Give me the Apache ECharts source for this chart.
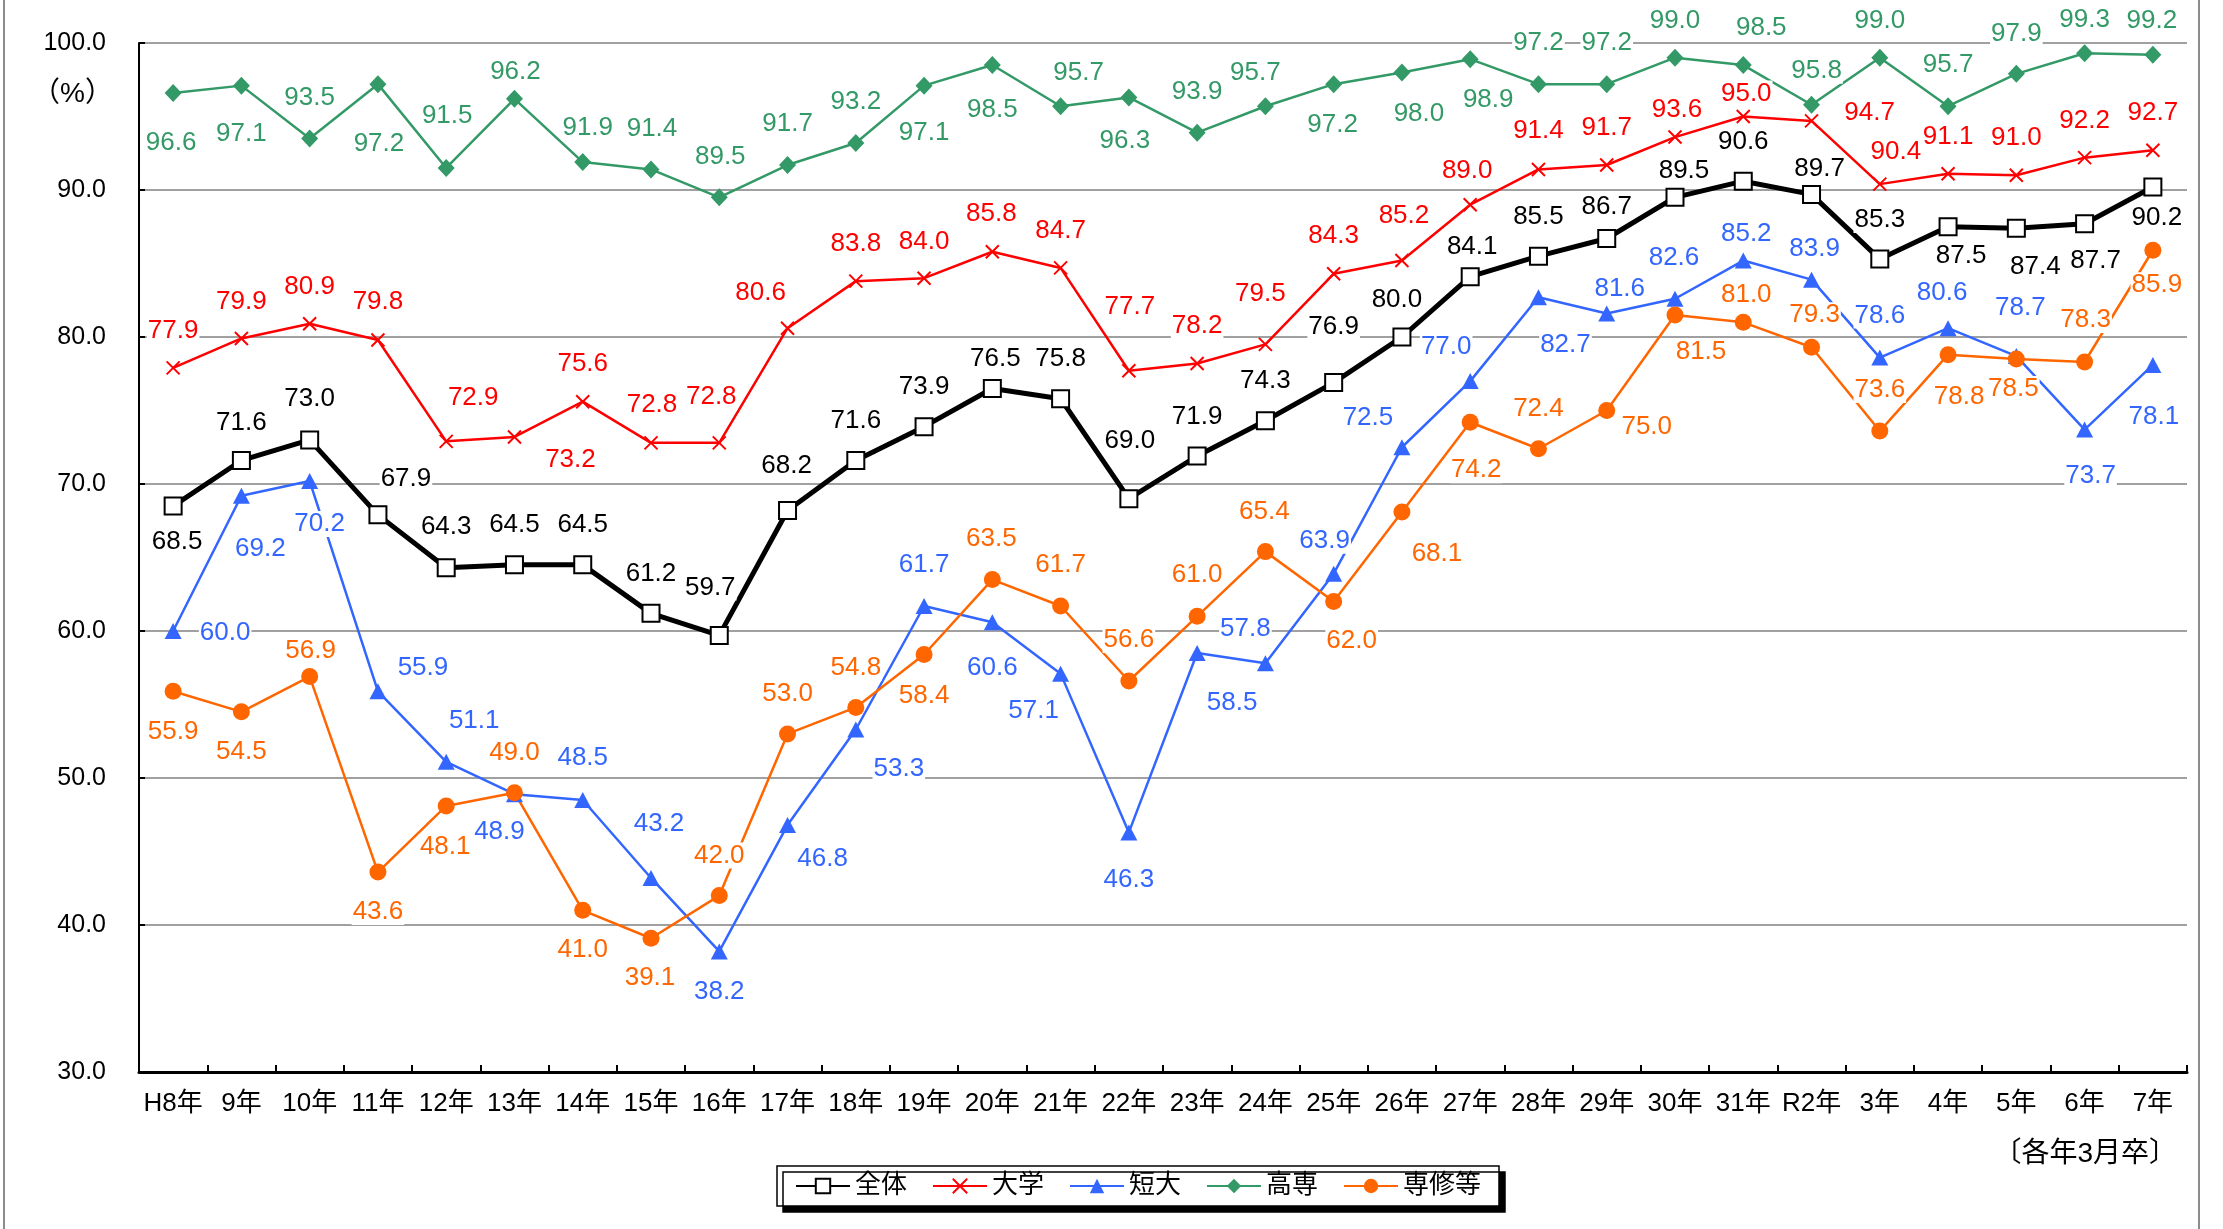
<!DOCTYPE html>
<html><head><meta charset="utf-8">
<script src="https://cdn.jsdelivr.net/npm/echarts@6/dist/echarts.min.js"></script>
<style>html,body{margin:0;padding:0;background:#fff}#c{width:2223px;height:1229px}</style>
</head><body><div id="c"></div>
<script>
const categories = ['H8年','9年','10年','11年','12年','13年','14年','15年','16年','17年','18年','19年','20年','21年','22年','23年','24年','25年','26年','27年','28年','29年','30年','31年','R2年','3年','4年','5年','6年','7年'];
const seriesNames = ['全体','大学','短大','高専','専修等'];
const zentai = [68.5,71.6,73.0,67.9,64.3,64.5,64.5,61.2,59.7,68.2,71.6,73.9,76.5,75.8,69.0,71.9,74.3,76.9,80.0,84.1,85.5,86.7,89.5,90.6,89.7,85.3,87.5,87.4,87.7,90.2];
const daigaku = [77.9,79.9,80.9,79.8,72.9,73.2,75.6,72.8,72.8,80.6,83.8,84.0,85.8,84.7,77.7,78.2,79.5,84.3,85.2,89.0,91.4,91.7,93.6,95.0,94.7,90.4,91.1,91.0,92.2,92.7];
const tandai = [60.0,69.2,70.2,55.9,51.1,48.9,48.5,43.2,38.2,46.8,53.3,61.7,60.6,57.1,46.3,58.5,57.8,63.9,72.5,77.0,82.7,81.6,82.6,85.2,83.9,78.6,80.6,78.7,73.7,78.1];
const kosen = [96.6,97.1,93.5,97.2,91.5,96.2,91.9,91.4,89.5,91.7,93.2,97.1,98.5,95.7,96.3,93.9,95.7,97.2,98.0,98.9,97.2,97.2,99.0,98.5,95.8,99.0,95.7,97.9,99.3,99.2];
const senshu = [55.9,54.5,56.9,43.6,48.1,49.0,41.0,39.1,42.0,53.0,54.8,58.4,63.5,61.7,56.6,61.0,65.4,62.0,68.1,74.2,72.4,75.0,81.5,81.0,79.3,73.6,78.8,78.5,78.3,85.9];

// label offsets (pixels, style only)
const offZentai = [[4,36],[0,-38],[0,-41],[28,-36],[0,-41],[0,-40],[0,-40],[0,-40],[-9,-48],[-1,-45],[0,-40],[0,-40],[3,-30],[0,-40],[1,-58],[0,-39],[0,-40],[0,-56],[-5,-37],[2,-30],[0,-39],[0,-32],[9,-27],[0,-39],[8,-26],[0,-39],[13,29],[19,39],[11,37],[4,31]];
const offDaigaku = [[0,-37],[0,-37],[0,-37],[0,-38],[27,-44],[56,23],[0,-38],[1,-38],[-8,-46],[-27,-35],[0,-37],[0,-36],[-1,-38],[0,-37],[1,-64],[0,-38],[-5,-51],[0,-38],[2,-45],[-3,-34],[0,-39],[0,-37],[2,-27],[3,-23],[58,-8],[16,-32],[0,-37],[0,-37],[0,-37],[0,-37]];
const offTandai = [[52,2],[19,53],[10,43],[45,-23],[28,-41],[-15,38],[0,-42],[8,-54],[0,40],[35,34],[43,39],[0,-41],[0,46],[-27,37],[0,47],[35,50],[-20,-35],[-9,-33],[-34,-29],[-24,-34],[27,48],[13,-25],[-1,-41],[3,-27],[3,-31],[0,-42],[-6,-35],[4,-48],[6,46],[1,52]];
const offKosen = [[-2,50],[0,48],[0,-41],[1,60],[1,-52],[1,-27],[5,-34],[1,-41],[1,-41],[0,-41],[0,-41],[0,47],[0,45],[18,-33],[-4,43],[0,-41],[-10,-33],[-1,41],[17,41],[18,41],[0,-41],[0,-41],[0,-37],[18,-37],[5,-34],[0,-37],[0,-41],[0,-40],[0,-33],[-1,-34]];
const offSenshu = [[0,41],[0,40],[1,-26],[0,40],[-1,41],[0,-40],[0,40],[-1,40],[0,-40],[0,-40],[0,-40],[0,41],[-1,-41],[0,-41],[0,-41],[0,-41],[-1,-40],[18,39],[35,42],[6,48],[0,-40],[40,16],[26,37],[3,-27],[3,-32],[0,-41],[11,42],[-3,30],[1,-42],[4,35]];

const FF = '"Liberation Sans", "Noto Sans CJK JP", Arial, sans-serif';

function mk(name, data, offs, color, lw, symbol, size, itemStyle) {
  return {
    name: name, type: 'line',
    data: data.map((v, i) => ({ value: v, label: { offset: offs[i] } })),
    symbol: symbol, symbolSize: size,
    lineStyle: { color: color, width: lw },
    itemStyle: itemStyle,
    label: {
      show: true, position: 'inside', color: color, fontSize: 26, fontFamily: FF,
      backgroundColor: '#fff', padding: [0, 1],
      formatter: p => Number(p.value).toFixed(1)
    },
    emphasis: { disabled: true },
    animation: false
  };
}

const chart = echarts.init(document.getElementById('c'), null, { renderer: 'canvas' });
chart.setOption({
  backgroundColor: '#fff',
  animation: false,
  grid: { left: 139, right: 36, top: 43, bottom: 157, containLabel: false },
  legend: {
    data: seriesNames,
    left: 777, top: 1166,
    itemWidth: 54, itemHeight: 18, itemGap: 25,
    padding: [7, 18],
    backgroundColor: '#fff', borderColor: '#000', borderWidth: 1.5, borderRadius: 0,
    shadowColor: '#000', shadowOffsetX: 6, shadowOffsetY: 6, shadowBlur: 0,
    textStyle: { fontSize: 26, color: '#000', fontFamily: FF },
    selectedMode: false
  },
  xAxis: {
    type: 'category', data: categories, boundaryGap: true,
    axisLine: { lineStyle: { color: '#000', width: 3 } },
    axisTick: { show: true, inside: true, length: 7, lineStyle: { color: '#000', width: 2 } },
    axisLabel: { fontSize: 26, color: '#000', margin: 19, interval: 0, fontFamily: FF },
    splitLine: { show: false }
  },
  yAxis: {
    type: 'value', min: 30, max: 100, interval: 10,
    axisLine: { show: true, lineStyle: { color: '#000', width: 2 } },
    axisTick: { show: true, inside: true, length: 6, lineStyle: { color: '#000', width: 2 } },
    axisLabel: { fontSize: 25, color: '#000', margin: 33, fontFamily: FF, formatter: v => v.toFixed(1) },
    splitLine: { show: true, lineStyle: { color: '#808080', width: 1.5 } }
  },
  graphic: [
    { type: 'line', shape: { x1: 4, y1: 0, x2: 4, y2: 1229 }, style: { stroke: '#666', lineWidth: 1.5 }, silent: true },
    { type: 'line', shape: { x1: 2199, y1: 0, x2: 2199, y2: 1229 }, style: { stroke: '#666', lineWidth: 1.5 }, silent: true },
    { type: 'text', left: 32, top: 80, style: { text: '（%）', fontSize: 28, fontFamily: FF, fill: '#000' }, silent: true },
    { type: 'text', right: 46, top: 1140, style: { text: '〔各年3月卒〕', fontSize: 28, fontFamily: FF, fill: '#000' }, silent: true }
  ],
  series: [
    mk('全体', zentai, offZentai, '#000', 5, 'rect', 17, { color: '#fff', borderColor: '#000', borderWidth: 2 }),
    mk('大学', daigaku, offDaigaku, '#ff0000', 2.5, 'path://M0,0L10,10M10,0L0,10', 13, { color: '#ff0000', borderColor: '#ff0000', borderWidth: 2 }),
    mk('短大', tandai, offTandai, '#3366ff', 2.5, 'triangle', [17, 16], { color: '#3366ff' }),
    mk('高専', kosen, offKosen, '#339966', 2.5, 'diamond', [17, 18], { color: '#339966' }),
    mk('専修等', senshu, offSenshu, '#ff6600', 2.5, 'circle', 17, { color: '#ff6600' })
  ]
});
</script></body></html>
